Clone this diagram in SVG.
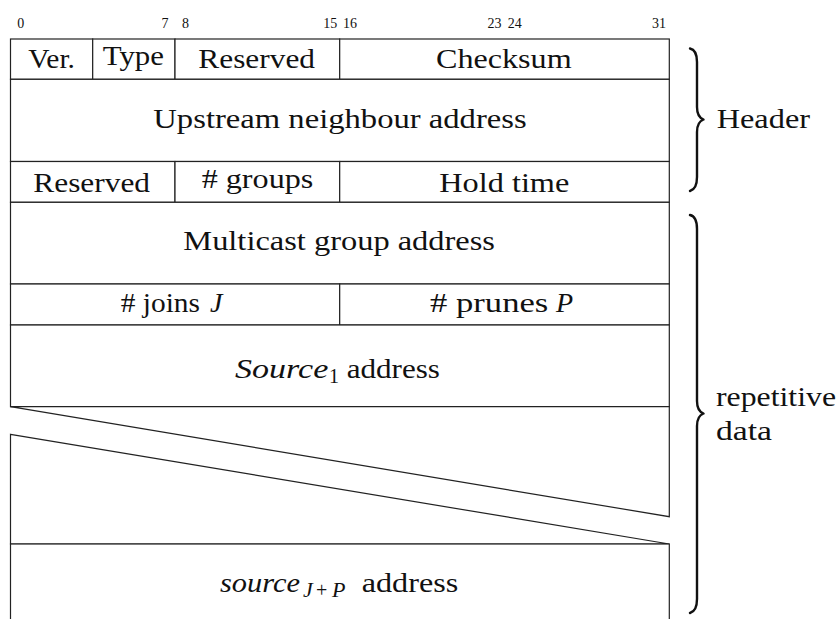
<svg xmlns="http://www.w3.org/2000/svg" width="840" height="619" viewBox="0 0 840 619">
<style>
.f{fill:#fff;stroke:#222;stroke-width:1.2}
.t{font-family:"Liberation Serif","Times New Roman",serif;font-size:28px;fill:#111}
.m{font-family:"Liberation Serif","Times New Roman",serif;font-style:italic;font-size:28px;fill:#111}
.s{font-family:"Liberation Serif","Times New Roman",serif;font-size:20px;fill:#111;font-style:normal}
.si{font-family:"Liberation Serif","Times New Roman",serif;font-style:italic;font-size:22px;fill:#111}
.b{font-family:"Liberation Serif","Times New Roman",serif;font-size:14px;fill:#111;text-anchor:middle}
.br{fill:none;stroke:#111;stroke-width:2.4;stroke-linecap:round;stroke-linejoin:round}
</style>
<rect width="840" height="619" fill="#fff"/>
<g id="bits">
<text class="b" x="20.8" y="28">0</text>
<text class="b" x="164.9" y="28">7</text>
<text class="b" x="185.5" y="28">8</text>
<text class="b" x="330.2" y="28">15</text>
<text class="b" x="350" y="28">16</text>
<text class="b" x="494.5" y="28">23</text>
<text class="b" x="514.7" y="28">24</text>
<text class="b" x="659" y="28">31</text>
</g>
<g id="f-ver"><rect class="f" x="10.5" y="39" width="82.2" height="40.3"/><text class="t" x="28.3" y="68.3" textLength="46.7" lengthAdjust="spacingAndGlyphs">Ver.</text></g>
<g id="f-type"><rect class="f" x="92.7" y="39" width="82.3" height="40.3"/><text class="t" x="102.7" y="65" textLength="61.3" lengthAdjust="spacingAndGlyphs">Type</text></g>
<g id="f-reserved1"><rect class="f" x="175" y="39" width="164.7" height="40.3"/><text class="t" x="198.3" y="68.3" textLength="116.7" lengthAdjust="spacingAndGlyphs">Reserved</text></g>
<g id="f-checksum"><rect class="f" x="339.7" y="39" width="329.6" height="40.3"/><text class="t" x="436" y="68.3" textLength="135.7" lengthAdjust="spacingAndGlyphs">Checksum</text></g>
<g id="f-upstream"><rect class="f" x="10.5" y="79.3" width="658.8" height="82.2"/><text class="t" x="153.3" y="128.3" textLength="373.4" lengthAdjust="spacingAndGlyphs">Upstream neighbour address</text></g>
<g id="f-reserved2"><rect class="f" x="10.5" y="161.5" width="164.5" height="40.8"/><text class="t" x="33.3" y="191.7" textLength="116.7" lengthAdjust="spacingAndGlyphs">Reserved</text></g>
<g id="f-groups"><rect class="f" x="175" y="161.5" width="164.7" height="40.8"/><text class="t" x="201.7" y="187.5" textLength="111.6" lengthAdjust="spacingAndGlyphs"># groups</text></g>
<g id="f-holdtime"><rect class="f" x="339.7" y="161.5" width="329.6" height="40.8"/><text class="t" x="439.3" y="192" textLength="130" lengthAdjust="spacingAndGlyphs">Hold time</text></g>
<g id="f-multicast"><rect class="f" x="10.5" y="202.3" width="658.8" height="81.7"/><text class="t" x="183.3" y="250" textLength="311.7" lengthAdjust="spacingAndGlyphs">Multicast group address</text></g>
<g id="f-joins"><rect class="f" x="10.5" y="284" width="329.2" height="41"/><text class="t" x="120.7" y="311.5" textLength="79.3" lengthAdjust="spacingAndGlyphs"># joins</text><text class="m" x="210" y="311.5">J</text></g>
<g id="f-prunes"><rect class="f" x="339.7" y="284" width="329.6" height="41"/><text class="t" x="430" y="311.5" textLength="118.3" lengthAdjust="spacingAndGlyphs"># prunes</text><text class="m" x="556" y="311.5">P</text></g>
<g id="f-source1"><rect class="f" x="10.5" y="325" width="658.8" height="81.7"/><text class="m" x="235" y="378" textLength="93.3" lengthAdjust="spacingAndGlyphs">Source</text><text class="s" x="329" y="383">1</text><text class="t" x="346.7" y="378" textLength="93.3" lengthAdjust="spacingAndGlyphs">address</text></g>
<g id="gap">
<polygon class="f" points="10.5,406.7 669.3,406.7 669.3,516.7"/>
<polygon class="f" points="10.5,434.3 669.3,544 10.5,544"/>
</g>
<g id="f-sourceJP"><rect class="f" x="10.5" y="544" width="658.8" height="100"/><text class="m" x="220" y="592" textLength="80" lengthAdjust="spacingAndGlyphs">source</text><text class="si" y="597"><tspan x="303">J</tspan><tspan class="s" x="316">+</tspan><tspan x="332">P</tspan></text><text class="t" x="361.7" y="592" textLength="96.6" lengthAdjust="spacingAndGlyphs">address</text></g>
<g id="connectors">
<path class="br" d="M690,48.5 Q697,50 697,62 L697,107 Q697,117 703.5,119.5 Q697,122 697,132 L697,177 Q697,189 690,191"/>
<path class="br" d="M690,215 Q697,216.5 697,229 L697,401 Q697,411 703.5,413.5 Q697,416 697,426 L697,599 Q697,611 690,613"/>
</g>
<g id="label-header"><text class="t" x="716.7" y="128" textLength="93.3" lengthAdjust="spacingAndGlyphs">Header</text></g>
<g id="label-repetitive"><text class="t" x="716" y="406" textLength="120" lengthAdjust="spacingAndGlyphs">repetitive</text><text class="t" x="716" y="439.5" textLength="56" lengthAdjust="spacingAndGlyphs">data</text></g>
</svg>
